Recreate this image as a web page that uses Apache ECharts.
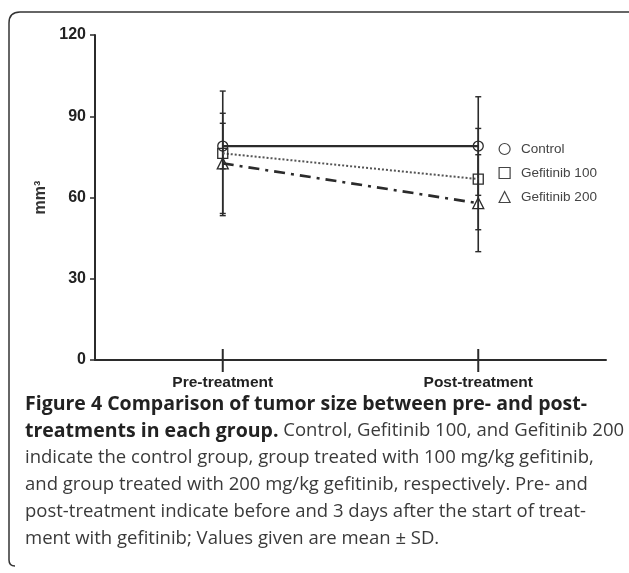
<!DOCTYPE html>
<html>
<head>
<meta charset="utf-8">
<script src="https://cdn.jsdelivr.net/npm/echarts/dist/echarts.min.js"></script>
<style>
html,body{margin:0;padding:0;background:#fff;}
#c{width:629px;height:573px;}
</style>
</head>
<body>
<div id="c"></div>
<script>
// ---- data ----
const categories = ['Pre-treatment', 'Post-treatment'];
const yTicks = [0, 30, 60, 90, 120];
const controlMean = [79.0, 79.0];
const controlSD = [8.4, 18.2];
const gef100Mean = [76.3, 66.8];
const gef100SD = [23.0, 18.7];
const gef200Mean = [72.6, 57.9];
const gef200SD = [18.5, 17.9];
const seriesNames = ['Control', 'Gefitinib 100', 'Gefitinib 200'];
const captionLines = [
  [['b', 'Figure 4 Comparison of tumor size between pre- and post-']],
  [['b', 'treatments in each group.'], ['n', ' Control, Gefitinib 100, and Gefitinib 200']],
  [['n', 'indicate the control group, group treated with 100 mg/kg gefitinib,']],
  [['n', 'and group treated with 200 mg/kg gefitinib, respectively. Pre- and']],
  [['n', 'post-treatment indicate before and 3 days after the start of treat-']],
  [['n', 'ment with gefitinib; Values given are mean \u00b1 SD.']]
];

const ink = '#2b2b2b';
const chart = echarts.init(document.getElementById('c'), null, {renderer: 'canvas'});

function errSeries(name, means, sds) {
  return {
    type: 'custom',
    name: name + ' SD',
    z: 1,
    silent: true,
    data: means.map((m, i) => [i, m, sds[i]]),
    renderItem: function (params, api) {
      const i = api.value(0), m = api.value(1), s = api.value(2);
      const top = api.coord([i, m + s]);
      const bot = api.coord([i, m - s]);
      const cap = 3;
      return {
        type: 'group',
        children: [
          {type: 'line', shape: {x1: top[0], y1: top[1], x2: bot[0], y2: bot[1]}, style: {stroke: ink, lineWidth: 1.6}},
          {type: 'line', shape: {x1: top[0] - cap, y1: top[1], x2: top[0] + cap, y2: top[1]}, style: {stroke: ink, lineWidth: 1.4}},
          {type: 'line', shape: {x1: bot[0] - cap, y1: bot[1], x2: bot[0] + cap, y2: bot[1]}, style: {stroke: ink, lineWidth: 1.4}}
        ]
      };
    }
  };
}
// category tick marks that cross the x axis line
const xTickSeries = {
  type: 'custom',
  name: 'xticks',
  z: 5,
  silent: true,
  data: categories.map((c, i) => [i, yTicks[0]]),
  renderItem: function (params, api) {
    const p = api.coord([api.value(0), api.value(1)]);
    return {type: 'line', shape: {x1: p[0], y1: p[1] - 11, x2: p[0], y2: p[1] + 12}, style: {stroke: ink, lineWidth: 2}};
  }
};
const markerStyle = {color: 'rgba(255,255,255,0)', borderColor: ink, borderWidth: 1.3};

const richStyles = {
  b: {fontFamily: 'Open Sans', fontWeight: 'bold', fontSize: 19.5, fill: '#222'},
  n: {fontFamily: 'Open Sans', fontWeight: 'normal', fontSize: 18.5, fill: '#3a3a3a'}
};
const captionGraphics = captionLines.map((parts, k) => ({
  type: 'text',
  left: 25,
  top: 394 + k * 27,
  style: {
    text: parts.map(p => '{' + p[0] + '|' + p[1] + '}').join(''),
    rich: richStyles
  }
}));

const borderStyle = {fill: 'none', stroke: '#333', lineWidth: 1.5};
const legendItem = {color: 'rgba(255,255,255,0)', borderColor: '#444', borderWidth: 1.2};

const option = {
  animation: false,
  backgroundColor: '#fff',
  grid: {left: 95, right: 23, top: 35, bottom: 213, containLabel: false},
  legend: {
    orient: 'vertical',
    left: 493.5,
    top: 137,
    itemWidth: 11,
    itemHeight: 11,
    itemGap: 10,
    textStyle: {fontFamily: 'Liberation Sans, Arial', fontSize: 13.5, color: '#444', padding: [0, 0, 0, 6]},
    data: [
      {name: seriesNames[0], icon: 'circle', itemStyle: legendItem},
      {name: seriesNames[1], icon: 'rect', itemStyle: legendItem},
      {name: seriesNames[2], icon: 'triangle', itemStyle: legendItem}
    ]
  },
  xAxis: {
    type: 'category',
    data: categories,
    boundaryGap: true,
    axisLine: {lineStyle: {color: ink, width: 2}},
    axisTick: {show: false},
    axisLabel: {margin: 15, fontFamily: 'Liberation Sans, Arial', fontWeight: 'bold', fontSize: 15.5, color: '#222'},
    splitLine: {show: false}
  },
  yAxis: {
    type: 'value',
    min: yTicks[0],
    max: yTicks[yTicks.length - 1],
    interval: yTicks[1] - yTicks[0],
    name: 'mm\u00b3',
    nameLocation: 'middle',
    nameGap: 41,
    nameRotate: 90,
    nameTextStyle: {fontFamily: 'Liberation Sans, Arial', fontWeight: 'bold', fontSize: 16, color: '#333'},
    axisLine: {show: true, lineStyle: {color: ink, width: 2}},
    axisTick: {show: true, length: 5, lineStyle: {color: ink, width: 1.5}},
    axisLabel: {margin: 9, fontFamily: 'Liberation Sans, Arial', fontWeight: 'bold', fontSize: 16, color: '#222'},
    splitLine: {show: false}
  },
  series: [
    errSeries(seriesNames[0], controlMean, controlSD),
    errSeries(seriesNames[1], gef100Mean, gef100SD),
    errSeries(seriesNames[2], gef200Mean, gef200SD),
    xTickSeries,
    {
      type: 'line', name: seriesNames[0], data: controlMean, z: 3,
      symbol: 'circle', symbolSize: 10,
      itemStyle: markerStyle,
      lineStyle: {color: ink, width: 2.2, type: 'solid'}
    },
    {
      type: 'line', name: seriesNames[1], data: gef100Mean, z: 3,
      symbol: 'rect', symbolSize: 10,
      itemStyle: markerStyle,
      lineStyle: {color: '#555', width: 2, type: [2, 2]}
    },
    {
      type: 'line', name: seriesNames[2], data: gef200Mean, z: 3,
      symbol: 'triangle', symbolSize: 11,
      itemStyle: markerStyle,
      lineStyle: {color: ink, width: 2.6, type: [11, 6, 3, 6]}
    }
  ],
  graphic: [
    {type: 'line', shape: {x1: 20, y1: 12, x2: 629, y2: 12}, style: borderStyle},
    {type: 'bezierCurve', shape: {x1: 9, y1: 23, cpx1: 9, cpy1: 12, x2: 20, y2: 12}, style: borderStyle},
    {type: 'line', shape: {x1: 9, y1: 23, x2: 9, y2: 560}, style: borderStyle},
    {type: 'bezierCurve', shape: {x1: 9, y1: 560, cpx1: 9, cpy1: 566, x2: 15, y2: 566}, style: borderStyle}
  ].concat(captionGraphics)
};
chart.setOption(option);
</script>
</body>
</html>
